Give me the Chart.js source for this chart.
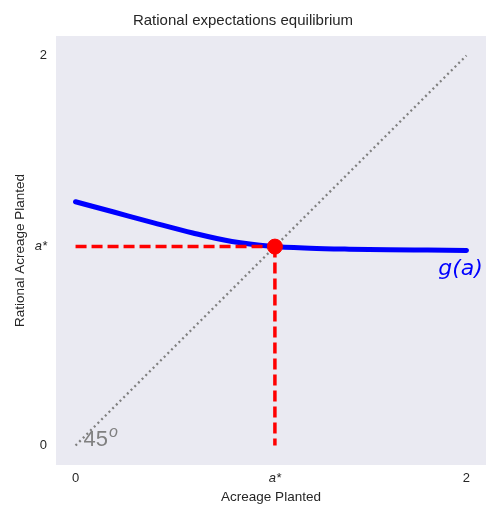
<!DOCTYPE html>
<html>
<head>
<meta charset="utf-8">
<script src="https://cdn.jsdelivr.net/npm/chart.js@4/dist/chart.umd.min.js"></script>
<style>
  html, body { margin: 0; padding: 0; background: #fff; }
  #wrap { width: 492px; height: 513px; }
</style>
</head>
<body>
<div id="wrap"><canvas id="chart" width="492" height="513"></canvas></div>
<script>
const A_STAR = 1.02;
const acreage = [0, 0.2, 0.4, 0.6, 0.8, 1.0, 1.2, 1.4, 1.6, 1.8, 2.0];
const rational = [1.25, 1.196, 1.142, 1.09, 1.046, 1.022, 1.012, 1.007, 1.004, 1.002, 1.0];
const tickValues = [0, A_STAR, 2];
const tickLabels = ["0", "a*", "2"];
const diagonal = [0, 2];

const FONT = "'Liberation Sans', Arial, sans-serif";
const TEXT = "#262626";

// light seaborn-style plot background
const plotBackground = {
    id: "plotBackground",
    beforeDraw(chart) {
        const { ctx, chartArea: a } = chart;
        ctx.save();
        ctx.fillStyle = "#EAEAF2";
        ctx.fillRect(a.left, a.top, a.right - a.left, a.bottom - a.top);
        ctx.restore();
    },
};

// the "45°" and "g(a)" annotations
const annotations = {
    id: "annotations",
    afterDatasetsDraw(chart) {
        const { ctx, scales: { x, y } } = chart;
        ctx.save();
        ctx.textBaseline = "alphabetic";
        ctx.textAlign = "left";
        ctx.fillStyle = "#808080";
        ctx.font = "22px " + FONT;
        const x0 = x.getPixelForValue(0.041), y0 = y.getPixelForValue(-0.005);
        ctx.fillText("45", x0, y0);
        const w = ctx.measureText("45").width;
        ctx.font = "italic 16px " + FONT;
        ctx.fillText("o", x0 + w + 1, y0 - 9);

        ctx.fillStyle = "#0000FF";
        ctx.font = "italic 22px 'DejaVu Sans', sans-serif";
        ctx.fillText("g(a)", x.getPixelForValue(1.856), y.getPixelForValue(0.872));
        ctx.restore();
    },
};

const tickFont = (c) => ({
    family: FONT,
    size: 13,
    style: c.tick && c.tick.value === A_STAR ? "italic" : "normal",
});

const fixedTicks = (scale) => {
    scale.ticks = tickValues.map((v) => ({ value: v }));
};
const tickLabel = (value) => tickLabels[tickValues.indexOf(value)] ?? "";

new Chart(document.getElementById("chart"), {
    type: "scatter",
    data: {
        datasets: [
            {
                data: diagonal.map((v) => ({ x: v, y: v })),
                showLine: true,
                borderColor: "#808080",
                borderWidth: 2.3,
                borderDash: [2, 3.2],
                pointRadius: 0,
                order: 4,
            },
            {
                data: acreage.map((v, i) => ({ x: v, y: rational[i] })),
                showLine: true,
                borderColor: "#0000FF",
                borderWidth: 5,
                borderCapStyle: "round",
                cubicInterpolationMode: "monotone",
                pointRadius: 0,
                order: 3,
            },
            {
                data: [{ x: 0, y: A_STAR }, { x: A_STAR, y: A_STAR }],
                showLine: true,
                borderColor: "#FF0000",
                borderWidth: 3.5,
                borderDash: [11, 5],
                pointRadius: 0,
                order: 2,
            },
            {
                data: [{ x: A_STAR, y: A_STAR }, { x: A_STAR, y: 0 }],
                showLine: true,
                borderColor: "#FF0000",
                borderWidth: 3.5,
                borderDash: [11, 5],
                pointRadius: 0,
                order: 1,
            },
            {
                data: [{ x: A_STAR, y: A_STAR }],
                pointRadius: 7.5,
                backgroundColor: "#FF0000",
                borderColor: "#FF0000",
                pointBorderWidth: 1,
                order: 0,
            },
        ],
    },
    options: {
        responsive: false,
        animation: false,
        layout: { autoPadding: false, padding: { left: 0, right: 6, top: 0, bottom: 0 } },
        plugins: {
            legend: { display: false },
            tooltip: { enabled: false },
            title: {
                display: true,
                text: "Rational expectations equilibrium",
                color: TEXT,
                font: { family: FONT, size: 15, weight: "normal" },
                padding: { top: 12, bottom: 6 },
            },
        },
        scales: {
            x: {
                type: "linear",
                min: -0.1,
                max: 2.1,
                afterBuildTicks: fixedTicks,
                afterFit: (s) => { s.height = 48; },
                grid: { display: false, drawTicks: false },
                border: { display: false },
                ticks: { callback: tickLabel, color: TEXT, font: tickFont, padding: 6, maxRotation: 0 },
                title: {
                    display: true,
                    text: "Acreage Planted",
                    color: TEXT,
                    font: { family: FONT, size: 13.5 },
                    padding: { top: 0, bottom: 8 },
                },
            },
            y: {
                type: "linear",
                min: -0.1,
                max: 2.1,
                afterBuildTicks: fixedTicks,
                afterFit: (s) => { s.width = 56; },
                grid: { display: false, drawTicks: false },
                border: { display: false },
                ticks: { callback: tickLabel, color: TEXT, font: tickFont, padding: 9 },
                title: {
                    display: true,
                    text: "Rational Acreage Planted",
                    color: TEXT,
                    font: { family: FONT, size: 13.5 },
                    padding: { top: 12, bottom: 0 },
                },
            },
        },
    },
    plugins: [plotBackground, annotations],
});
</script>
</body>
</html>
